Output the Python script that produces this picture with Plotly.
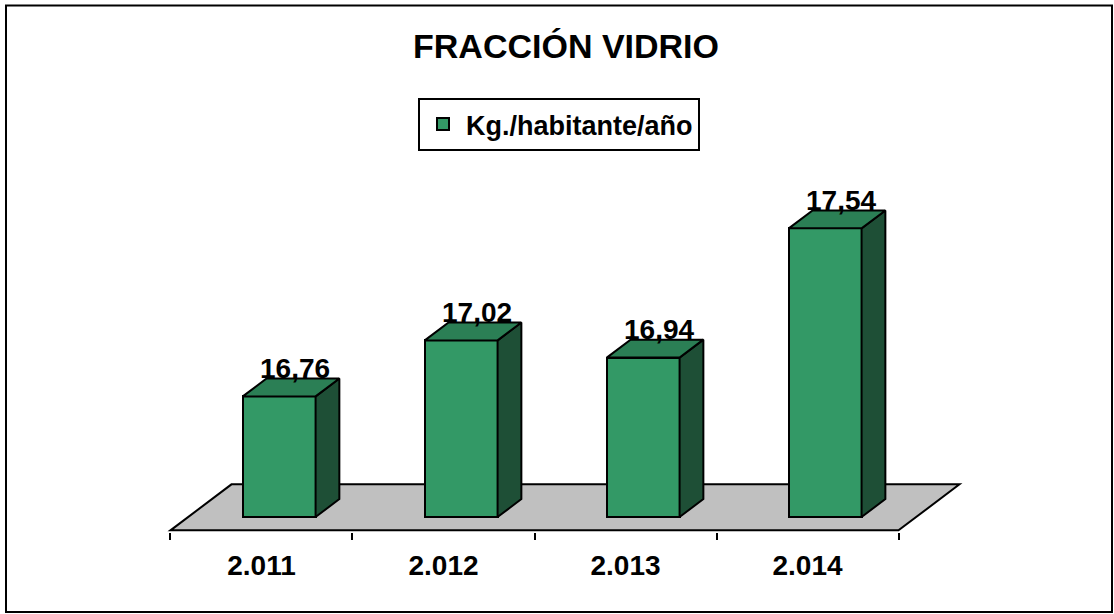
import plotly.graph_objects as go

# ---- data ----
categories = ["2.011", "2.012", "2.013", "2.014"]
values = [16.76, 17.02, 16.94, 17.54]
value_labels = ["16,76", "17,02", "16,94", "17,54"]
series_name = "Kg./habitante/año"
title_text = "FRACCIÓN VIDRIO"

# ---- layout / style parameters ----
W, H = 1114, 614
ML, MR, MT, MB = 150, 114, 0, 82
BASE = 16.2                 # value axis minimum (floor level)
XR = [-0.6126, 4.0577]      # category axis range
YR = [16.1304, 18.6002]     # value axis range
DX = 0.335                  # full floor depth, in category units
DY = 0.2136                 # full floor depth, in value units
F0, F1 = 0.29, 0.68         # bar front / back depth fractions
BW = 0.40                   # bar width (category units)

FONT = "Liberation Sans, Arial, sans-serif"
FRONT = "#339966"
TOP = "#2B7F55"
SIDE = "#1E4F36"
FLOOR = "#C0C0C0"


def proj(x, v, d):
    """oblique projection of (category x, value v, depth d) onto the axes"""
    return x + d * DX, v + (d - F0) * DY


fig = go.Figure()

# front faces of the bars
fig.add_trace(go.Bar(
    x=list(range(len(categories))),
    y=[v - BASE for v in values],
    base=BASE,
    width=BW,
    offset=-BW / 2 + F0 * DX,
    marker=dict(color=FRONT, line=dict(color="black", width=2)),
    name=series_name,
    showlegend=True,
    hoverinfo="skip",
))

# side and top faces
for i, v in enumerate(values):
    l, r = i - BW / 2, i + BW / 2
    top = [proj(l, v, F0), proj(r, v, F0), proj(r, v, F1), proj(l, v, F1), proj(l, v, F0)]
    side = [proj(r, v, F0), proj(r, v, F1), proj(r, BASE, F1), proj(r, BASE, F0), proj(r, v, F0)]
    for poly, col in ((side, SIDE), (top, TOP)):
        fig.add_trace(go.Scatter(
            x=[p[0] for p in poly], y=[p[1] for p in poly],
            mode="lines", fill="toself", fillcolor=col,
            line=dict(color="black", width=2),
            showlegend=False, hoverinfo="skip",
        ))

# floor (drawn below the bars)
n = len(categories)
fl = [proj(-0.5, BASE, 0), proj(n - 0.5, BASE, 0), proj(n - 0.5, BASE, 1), proj(-0.5, BASE, 1)]
path = "M " + " L ".join(f"{px},{py}" for px, py in fl) + " Z"
fig.add_shape(type="path", path=path, xref="x", yref="y", layer="below",
              fillcolor=FLOOR, line=dict(color="black", width=2))

# data labels
for i, (v, t) in enumerate(zip(values, value_labels)):
    _, ly = proj(i, v, F1)
    lx = i + (F0 + F1) / 2 * DX
    fig.add_annotation(x=lx, y=ly, text=t, showarrow=False, xanchor="center",
                       yanchor="middle", yshift=10, xshift=4,
                       font=dict(family=FONT, size=28, color="black", weight="bold"))

# outer chart border
pw, ph = W - ML - MR, H - MT - MB
fig.add_shape(type="rect", xref="paper", yref="paper",
              x0=(6 - ML) / pw, x1=(1112 - ML) / pw,
              y0=1 - (612 - MT) / ph, y1=1 - (5.5 - MT) / ph,
              line=dict(color="black", width=2), fillcolor="rgba(0,0,0,0)")

fig.update_layout(
    width=W, height=H,
    margin=dict(l=ML, r=MR, t=MT, b=MB, autoexpand=False),
    paper_bgcolor="white", plot_bgcolor="rgba(0,0,0,0)",
    font=dict(family=FONT, color="black"),
    title=dict(text=title_text, x=566 / W, xanchor="center", xref="container",
               y=1 - 46 / H, yanchor="middle", yref="container",
               font=dict(family=FONT, size=34, color="black", weight="bold")),
    legend=dict(x=(418 - ML) / pw, y=1 - (98 - MT) / ph, xref="paper", yref="paper",
                xanchor="left", yanchor="top", bgcolor="white",
                bordercolor="black", borderwidth=2, itemwidth=36,
                font=dict(family=FONT, size=27, color="black", weight="bold")),
    xaxis=dict(range=XR, tickmode="array", tickvals=list(range(n)), ticktext=categories,
               ticks="", showgrid=False, zeroline=False, showline=False, tickangle=0,
               automargin=False, ticklabelstandoff=14,
               tickfont=dict(family=FONT, size=28, color="black", weight="bold"),
               minor=dict(tickmode="array", tickvals=[k - 0.5 for k in range(n + 1)],
                          ticks="outside", ticklen=7, tickwidth=1.5, tickcolor="black",
                          showgrid=False)),
    yaxis=dict(range=YR, visible=False, showgrid=False, zeroline=False),
    bargap=0,
)

fig.write_html("out.html", config={"displayModeBar": False},
               post_script="document.body.style.margin='0';document.body.style.overflow='hidden';")
